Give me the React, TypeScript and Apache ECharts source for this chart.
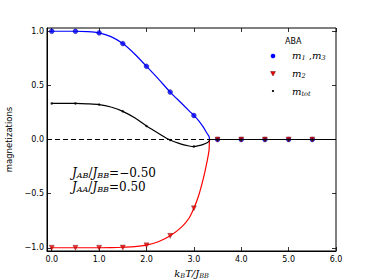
import React, { useEffect, useRef } from "react";
import * as echarts from "echarts";

// marker positions (k_B T / J_BB)
const markerX = [0, 0.5, 1.0, 1.5, 2.0, 2.5, 3.0, 3.5, 4.0, 4.5, 5.0, 5.5];
const m13Markers = [1.0, 1.0, 0.985, 0.886, 0.676, 0.438, 0.222, 0, 0, 0, 0, 0];
const m2Markers = [-1.0, -1.0, -1.0, -0.998, -0.978, -0.89, -0.636, 0, 0, 0, 0, 0];
const mtotMarkers = [0.333, 0.333, 0.323, 0.26, 0.125, -0.005, -0.064, 0, 0, 0, 0, 0];

// smooth curves
const curveX = [0, 0.5, 0.75, 1.0, 1.25, 1.5, 1.75, 2.0, 2.25, 2.5, 2.75, 2.9, 3.0, 3.1, 3.2, 3.28, 3.32, 3.34, 3.5, 6.0];
const m13Curve = [1.0, 1.0, 0.997, 0.985, 0.95, 0.886, 0.79, 0.676, 0.56, 0.438, 0.33, 0.265, 0.222, 0.175, 0.114, 0.055, 0.028, 0, 0, 0];
const m2Curve = [-1.0, -1.0, -1.0, -1.0, -0.999, -0.995, -0.99, -0.976, -0.945, -0.89, -0.805, -0.725, -0.636, -0.52, -0.36, -0.2, -0.1, 0, 0, 0];
const mtotCurve = [0.333, 0.333, 0.33, 0.323, 0.3, 0.26, 0.2, 0.125, 0.058, -0.005, -0.045, -0.06, -0.065, -0.057, -0.045, -0.03, -0.015, 0, 0, 0];

const xTicks = [0, 1, 2, 3, 4, 5, 6];
const yTicks = [-1, -0.5, 0, 0.5, 1];

const pairs = (xs: number[], ys: number[]) => xs.map((x, i) => [x, ys[i]]);

const mathFont = "DejaVu Serif";
const sansFont = "DejaVu Sans";

const mkRich = (size: number, sub: number, pad: number) => ({
  m: { fontFamily: mathFont, fontStyle: "italic", fontSize: size, lineHeight: size + 1, color: "#000", verticalAlign: "middle" },
  n: { fontFamily: mathFont, fontSize: size, lineHeight: size + 1, color: "#000", verticalAlign: "middle" },
  s: { fontFamily: mathFont, fontStyle: "italic", fontSize: sub, lineHeight: sub, padding: [pad, 0, 0, 0], color: "#000", verticalAlign: "middle" },
});
const annRich = mkRich(12, 8, 6);
const legRich = mkRich(10, 6.5, 5);

export default function App() {
  const ref = useRef<HTMLDivElement>(null);
  useEffect(() => {
    if (!ref.current) return;
    const chart = echarts.init(ref.current, null, { renderer: "svg" });
    const tickStyle = { show: true, inside: true, length: 4, lineStyle: { color: "#000", width: 0.8 } };
    const axisLine = { show: true, onZero: false, lineStyle: { color: "#000", width: 1 } };
    const option: any = {
      animation: false,
      backgroundColor: "#fff",
      grid: { left: 47, right: 38, top: 28, bottom: 29, show: true, borderColor: "#000", borderWidth: 1, backgroundColor: "transparent", containLabel: false, outerBoundsMode: "none" },
      xAxis: [
        {
          type: "value", min: -0.1, max: 6, position: "bottom",
          axisLine,
          axisTick: { ...tickStyle, customValues: xTicks },
          splitLine: { show: false },
          axisLabel: { customValues: xTicks, formatter: (v: number) => v.toFixed(1), fontFamily: sansFont, fontSize: 8, color: "#000", margin: 4 },
          name: "{m|k}{s|B}{m|T/J}{s|BB}", nameLocation: "middle", nameGap: 17,
          nameTextStyle: { rich: legRich },
        },
        {
          type: "value", min: -0.1, max: 6, position: "top",
          axisLine: { show: false, onZero: false }, axisTick: { ...tickStyle, customValues: xTicks },
          axisLabel: { show: false }, splitLine: { show: false },
        },
      ],
      yAxis: [
        {
          type: "value", min: -1.03, max: 1.03, position: "left",
          axisLine,
          axisTick: { ...tickStyle, customValues: yTicks },
          splitLine: { show: false },
          axisLabel: { customValues: yTicks, formatter: (v: number) => v.toFixed(1).replace("-", "\u2212"), fontFamily: sansFont, fontSize: 8, color: "#000", margin: 3 },
          name: "magnetizations", nameLocation: "middle", nameGap: 31,
          nameTextStyle: { fontFamily: sansFont, fontSize: 8.5, color: "#000" },
        },
        {
          type: "value", min: -1.03, max: 1.03, position: "right",
          axisLine: { show: false, onZero: false }, axisTick: { ...tickStyle, customValues: yTicks },
          axisLabel: { show: false }, splitLine: { show: false },
        },
      ],
      series: [
        { type: "line", data: pairs(curveX, m13Curve), smooth: 0.3, showSymbol: false, lineStyle: { color: "#0000ff", width: 1.2 }, z: 2 },
        { type: "scatter", data: pairs(markerX, m13Markers), symbol: "circle", symbolSize: 5, itemStyle: { color: "#0000ff", borderColor: "#000033", borderWidth: 0.3 }, z: 3 },
        { type: "line", data: pairs(curveX, m2Curve), smooth: 0.3, showSymbol: false, lineStyle: { color: "#ff0000", width: 1.2 }, z: 4 },
        { type: "scatter", data: pairs(markerX, m2Markers), symbol: "triangle", symbolRotate: 180, symbolSize: 5, itemStyle: { color: "#ee0000", borderColor: "#400", borderWidth: 0.4 }, z: 5 },
        {
          type: "line", data: pairs(curveX, mtotCurve), smooth: 0.3, showSymbol: false, lineStyle: { color: "#000", width: 1.2 }, z: 6,
          markLine: { silent: true, symbol: "none", label: { show: false }, lineStyle: { color: "#000", type: [5, 3], width: 1 }, data: [{ yAxis: 0 }] },
        },
        { type: "scatter", data: pairs(markerX, mtotMarkers), symbol: "circle", symbolSize: 2.5, itemStyle: { color: "#000" }, z: 7 },
      ],
      graphic: [
        { type: "text", left: 285, top: 37, style: { text: "ABA", fontFamily: sansFont, fontSize: 8, fill: "#000" } },
        { type: "circle", shape: { cx: 273, cy: 56, r: 2.3 }, style: { fill: "#0000ff" } },
        { type: "polygon", shape: { points: [[270.5, 71.5], [275.5, 71.5], [273, 76]] }, style: { fill: "#ee0000", stroke: "#400", lineWidth: 0.4 } },
        { type: "circle", shape: { cx: 273, cy: 91, r: 1.1 }, style: { fill: "#000" } },
        { type: "text", x: 292, y: 50, style: { text: "{m|m}{s|1}{n| ,}{m|m}{s|3}", rich: legRich } },
        { type: "text", x: 292, y: 68, style: { text: "{m|m}{s|2}", rich: legRich } },
        { type: "text", x: 292, y: 86, style: { text: "{m|m}{s|tot}", rich: legRich } },
        { type: "text", x: 72, y: 166, style: { text: "{m|J}{s|AB}{n|/}{m|J}{s|BB}{n|=\u22120.50}", rich: annRich } },
        { type: "text", x: 72, y: 180, style: { text: "{m|J}{s|AA}{n|/}{m|J}{s|BB}{n|=0.50}", rich: annRich } },
      ],
    };
    chart.setOption(option);
    return () => chart.dispose();
  }, []);
  return <div ref={ref} style={{ position: "fixed", left: 0, top: 0, width: 374, height: 280 }} />;
}
